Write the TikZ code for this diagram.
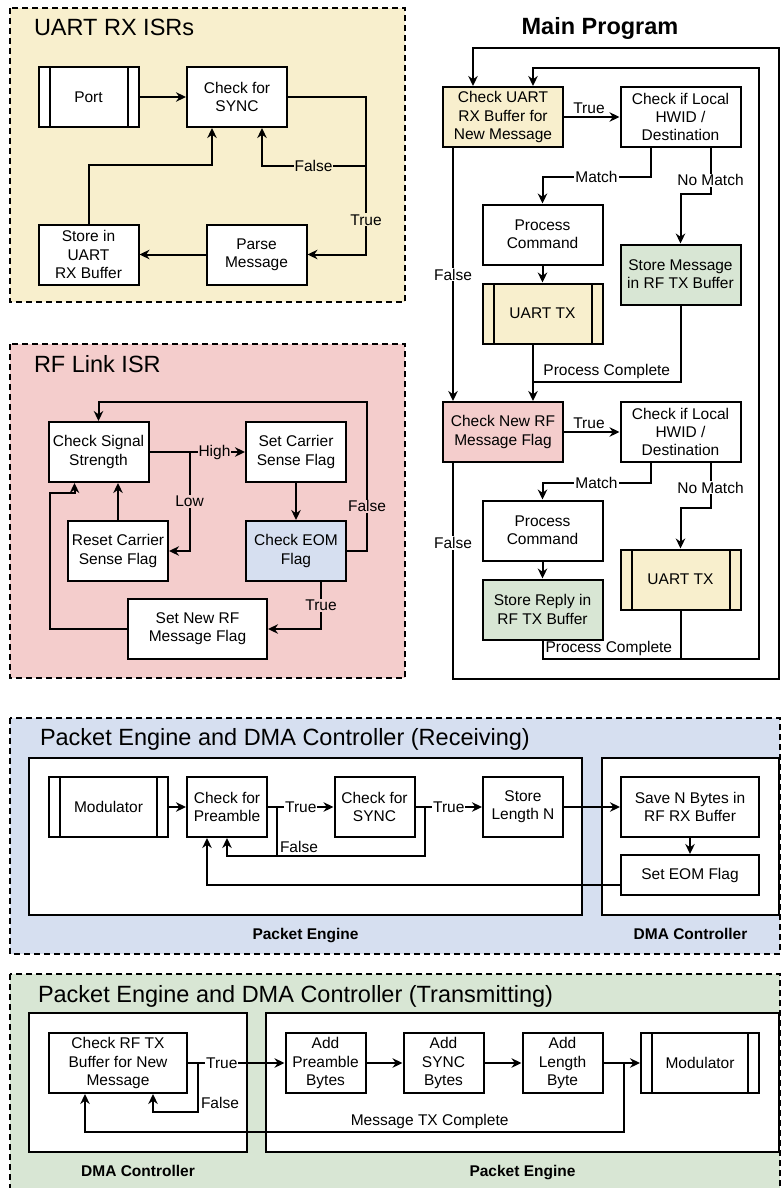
\documentclass[tikz,border=0pt]{standalone}
\usepackage{fontspec}
\setmainfont{Liberation Sans}
\usetikzlibrary{arrows.meta,calc}

\definecolor{uartbg}{HTML}{F8EFCD}
\definecolor{rfbg}{HTML}{F4CDCC}
\definecolor{rxbg}{HTML}{D6DFF0}
\definecolor{txbg}{HTML}{D8E6D4}

\newcommand{\boxfont}{\fontsize{15.5}{18.3}\selectfont}
\newcommand{\headfont}{\fontsize{23.5}{28}\selectfont}
\newcommand{\partfont}{\fontsize{15.5}{18}\selectfont\bfseries}

\begin{document}
\begin{tikzpicture}[x=1pt,y=-1pt,line width=2pt,>={Stealth[length=10pt,width=9.5pt]},
  box/.style={draw,fill=white,align=center,inner sep=1pt,minimum width=100pt,minimum height=60pt,font=\boxfont},
  subr/.style={box,path picture={
    \draw ([xshift=11pt]path picture bounding box.north west) -- ([xshift=11pt]path picture bounding box.south west);
    \draw ([xshift=-11pt]path picture bounding box.north east) -- ([xshift=-11pt]path picture bounding box.south east);}},
  part/.style={draw,fill=white},
  panel/.style={draw,dash pattern=on 6pt off 4pt,line width=1.5pt},
  lbl/.style={font=\boxfont,inner sep=1pt},
  ttl/.style={font=\headfont,anchor=base west,inner sep=0pt},
  partlbl/.style={font=\partfont,anchor=base,inner sep=0pt}]

  \useasboundingbox (0,0) rectangle (783,1188);

  \draw[panel,fill=uartbg] (10,8) rectangle (405,302);
  \node[ttl] (uarttitle) at (33,36) {UART RX ISRs};
  \node[subr] (port) at (88.5,97) {Port};
  \node[box] (sync) at (237,97) {Check for\\SYNC};
  \node[box] (store) at (88.5,254.5) {Store in\\UART\\RX Buffer};
  \node[box] (parse) at (256.5,254.5) {Parse\\Message};
  \coordinate (syncfalse) at (365,166);

  \draw[->] (port) -- (sync);
  \draw[->] (sync.east) -- ++(78,0) |- node[pos=0.39,lbl,fill=uartbg]{True} (parse.east);
  \draw[->] (syncfalse) -| node[pos=0.25,lbl,fill=uartbg]{False} ([xshift=25pt]sync.south);
  \draw[->] (parse) -- (store);
  \draw[->] (store.north) -- ++(0,-59) -| ([xshift=-25pt]sync.south);

  \draw[panel,fill=rfbg] (10,344) rectangle (405,678);
  \node[ttl] (rftitle) at (33,372) {RF Link ISR};
  \node[box] (sigchk) at (98.5,452) {Check Signal\\Strength};
  \node[box] (csset) at (296,452) {Set Carrier\\Sense Flag};
  \node[box] (csreset) at (118,551) {Reset Carrier\\Sense Flag};
  \node[box,fill=rxbg] (eomchk) at (296,551) {Check EOM\\Flag};
  \node[box,minimum width=139pt] (rfflag) at (197.5,629) {Set New RF\\Message Flag};

  \draw[->] (sigchk) -- node[pos=0.68,lbl,fill=rfbg]{High} (csset);
  \draw[->] ([xshift=40pt]sigchk.east) |- node[pos=0.25,lbl,fill=rfbg]{Low} (csreset.east);
  \draw[->] (csreset.north) -- (csreset.north |- sigchk.south);
  \draw[->] (csset) -- (eomchk);
  \draw[->] (eomchk.east) -- ++(20,0) -- node[pos=0.3,lbl,fill=rfbg]{False} ++(0,-149) -| (sigchk.north);
  \draw[->] ([xshift=25pt]eomchk.south) |- node[pos=0.25,lbl,fill=rfbg]{True} (rfflag.east);
  \draw[->] (rfflag.west) -| (50,493) -| ([xshift=-24pt]sigchk.south);

  \node[font=\headfont\bfseries,anchor=base,inner sep=0pt] (maintitle) at (600,35) {Main Program};
  \node[box,minimum width=120pt,fill=uartbg] (uartchk) at (503,117) {Check UART\\RX Buffer for\\New Message};
  \node[box,minimum width=120pt] (hwid1) at (680.5,117) {Check if Local\\HWID /\\Destination};
  \node[box,minimum width=120pt] (cmd1) at (542.5,234.5) {Process\\Command};
  \node[box,minimum width=120pt,fill=txbg] (rftxstore) at (680.5,274.5) {Store Message\\in RF TX Buffer};
  \node[subr,minimum width=120pt,fill=uartbg] (uarttx1) at (542.5,313.5) {UART TX};
  \node[box,minimum width=120pt,fill=rfbg] (rfchk) at (503,432) {Check New RF\\Message Flag};
  \node[box,minimum width=120pt] (hwid2) at (680.5,432) {Check if Local\\HWID /\\Destination};
  \node[box,minimum width=120pt] (cmd2) at (542.5,530.5) {Process\\Command};
  \node[box,minimum width=120pt,fill=txbg] (replystore) at (542.5,609.5) {Store Reply in\\RF TX Buffer};
  \node[subr,minimum width=120pt,fill=uartbg] (uarttx2) at (680.5,579.5) {UART TX};

  \draw[->] (uartchk) -- node[pos=0.45,lbl,above=1pt]{True} (hwid1);
  \draw[->] ([xshift=-50pt]uartchk.south) -- node[lbl,fill=white]{False} ([xshift=-50pt]rfchk.north);
  \draw[->] ([xshift=-30pt]hwid1.south) -- ++(0,29) -| node[pos=0.25,lbl,fill=white]{Match} (cmd1.north);
  \draw[->] ([xshift=30pt]hwid1.south) -- node[pos=0.7,lbl,fill=white]{No Match} ++(0,46) -| (rftxstore.north);
  \draw[->] (cmd1) -- (uarttx1);
  \draw[->] ($(uarttx1.south)+(-9.5,0)$) -- ($(rfchk.north)+(30,0)$);
  \draw (rftxstore.south) |- node[pos=0.75,lbl,above=1pt]{Process Complete} ($(rfchk.north)+(30,-19)$);
  \draw[->] (rfchk) -- node[pos=0.45,lbl,above=1pt]{True} (hwid2);
  \draw[->] ([xshift=-30pt]hwid2.south) -- ++(0,20) -| node[pos=0.25,lbl,fill=white]{Match} (cmd2.north);
  \draw[->] ([xshift=30pt]hwid2.south) -- node[pos=0.55,lbl,fill=white]{No Match} ++(0,45) -| (uarttx2.north);
  \draw[->] (cmd2) -- (replystore);
  \draw[->] (replystore.south) -- ++(0,18.5) node[lbl,above right=1pt]{Process Complete} -| (759,68) -| ([xshift=30pt]uartchk.north);
  \draw (uarttx2.south) -- ++(0,48.5);
  \draw[->] ([xshift=-50pt]rfchk.south) -- node[pos=0.37,lbl,fill=white]{False} ++(0,216) -| (779,48) -| ([xshift=-30pt]uartchk.north);

  \draw[panel,fill=rxbg] (10,718) rectangle (780,954);
  \node[ttl] (rxtitle) at (39,745) {Packet Engine and DMA Controller (Receiving)};
  \node[part,minimum width=553pt,minimum height=157pt] (rxengine) at (305.5,836.5) {};
  \node[part,minimum width=177pt,minimum height=157pt] (rxdma) at (690.5,836.5) {};
  \node[partlbl] (rxenginelbl) at (305.5,939) {Packet Engine};
  \node[partlbl] (rxdmalbl) at (690.5,939) {DMA Controller};
  \node[subr,minimum width=119pt] (rxmod) at (108.5,807) {Modulator};
  \node[box,minimum width=80pt] (preamble) at (227,807) {Check for\\Preamble};
  \node[box,minimum width=80pt] (rxsync) at (374.5,807) {Check for\\SYNC};
  \node[box,minimum width=80pt] (lenstore) at (523,807) {Store\\Length N};
  \node[box,minimum width=138pt] (rxsave) at (690,807) {Save N Bytes in\\RF RX Buffer};
  \node[box,minimum width=138pt,minimum height=40pt] (eomset) at (690,875) {Set EOM Flag};

  \draw[->] (rxmod) -- (preamble);
  \draw[->] (preamble) -- node[lbl,fill=white]{True} (rxsync);
  \draw[->] ([xshift=9pt]preamble.east) -- ++(0,49) node[lbl,above right=1pt]{False} -| (preamble.south);
  \draw ([xshift=9pt]rxsync.east) -- ++(0,49) -| ([xshift=9pt]preamble.east);
  \draw[->] (rxsync) -- node[lbl,fill=white]{True} (lenstore);
  \draw[->] (lenstore) -- (rxsave);
  \draw[->] (rxsave) -- (eomset);
  \draw[->] ([yshift=-10pt]eomset.west) -| ([xshift=-20pt]preamble.south);

  \draw[panel,fill=txbg] (10,974) rectangle (780,1200);
  \node[ttl] (txtitle) at (37,1002) {Packet Engine and DMA Controller (Transmitting)};
  \node[part,minimum width=218pt,minimum height=139pt] (txdma) at (138,1082.5) {};
  \node[part,minimum width=513pt,minimum height=139pt] (txengine) at (522.5,1082.5) {};
  \node[partlbl] (txdmalbl) at (138,1176) {DMA Controller};
  \node[partlbl] (txenginelbl) at (522.5,1176) {Packet Engine};
  \node[box,minimum width=138pt] (txchk) at (118,1063) {Check RF TX\\Buffer for New\\Message};
  \node[box,minimum width=80pt] (addpre) at (325.5,1063) {Add\\Preamble\\Bytes};
  \node[box,minimum width=80pt] (addsync) at (443.5,1063) {Add\\SYNC\\Bytes};
  \node[box,minimum width=80pt] (addlen) at (562.5,1063) {Add\\Length\\Byte};
  \node[subr,minimum width=118pt] (txmod) at (700,1063) {Modulator};

  \draw[->] (txchk) -- node[pos=0.35,lbl,fill=white]{True} (addpre);
  \draw[->] ([xshift=10pt]txchk.east) -- ++(0,49) node[lbl,above right=1pt]{False} -| ([xshift=35pt]txchk.south);
  \draw[->] (addpre) -- (addsync);
  \draw[->] (addsync) -- (addlen);
  \draw[->] (addlen) -- (txmod);
  \draw[->] ([xshift=20pt]addlen.east) -- ++(0,69) -| node[pos=0.18,lbl,above=1pt]{Message TX Complete} ([xshift=-33pt]txchk.south);
\end{tikzpicture}
\end{document}
